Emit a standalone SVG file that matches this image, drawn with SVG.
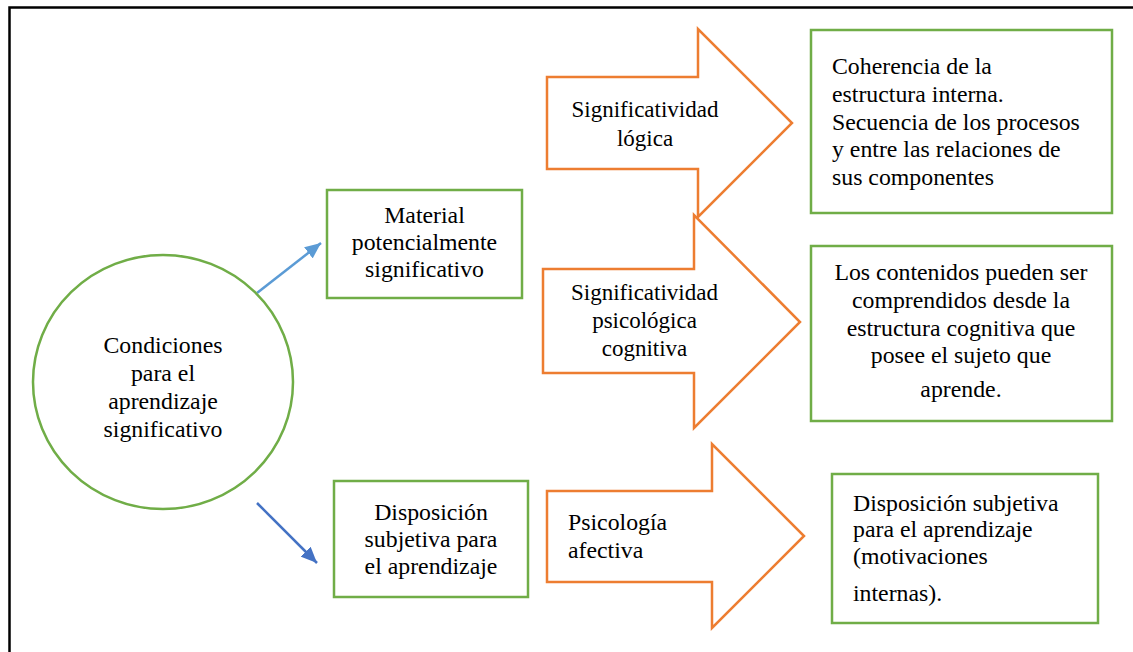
<svg xmlns="http://www.w3.org/2000/svg" width="1133" height="652" viewBox="0 0 1133 652">
<style>
.frame{fill:none;stroke:#000;stroke-width:2.5}
.g{fill:#fff;stroke:#70AD47;stroke-width:2.5}
.o{fill:#fff;stroke:#ED7D31;stroke-width:2.5;stroke-linejoin:miter}
.l1{stroke:#5B9BD5;stroke-width:2.5;fill:none}
.l2{stroke:#4472C4;stroke-width:2.5;fill:none}
</style>
<defs>
<marker id="ah1" markerUnits="userSpaceOnUse" viewBox="0 0 16 14" refX="16" refY="7" markerWidth="16" markerHeight="14" orient="auto"><path d="M0,0 L16,7 L0,14 Z" fill="#5B9BD5"/></marker>
<marker id="ah2" markerUnits="userSpaceOnUse" viewBox="0 0 16 14" refX="16" refY="7" markerWidth="16" markerHeight="14" orient="auto"><path d="M0,0 L16,7 L0,14 Z" fill="#4472C4"/></marker>
</defs>
<rect x="0" y="0" width="1133" height="652" fill="#fff"/>
<rect class="frame" x="9.5" y="7.5" width="1135" height="660"/>
<g id="connectors">
<line class="l1" x1="257" y1="293" x2="321" y2="243" marker-end="url(#ah1)"/>
<line class="l2" x1="257" y1="503" x2="317" y2="563" marker-end="url(#ah2)"/>
</g>
<g id="condiciones">
<ellipse class="g" cx="163" cy="382" rx="130" ry="127"/>
<text x="163" y="353" font-size="23.8" font-family="Liberation Serif" text-anchor="middle">Condiciones</text>
<text x="163" y="381" font-size="23.8" font-family="Liberation Serif" text-anchor="middle">para el</text>
<text x="163" y="409" font-size="23.8" font-family="Liberation Serif" text-anchor="middle">aprendizaje</text>
<text x="163" y="437" font-size="23.8" font-family="Liberation Serif" text-anchor="middle">significativo</text>
</g>
<g id="material">
<rect class="g" x="327" y="190" width="195" height="108"/>
<text x="424.5" y="223" font-size="23.8" font-family="Liberation Serif" text-anchor="middle">Material</text>
<text x="424.5" y="250" font-size="23.8" font-family="Liberation Serif" text-anchor="middle">potencialmente</text>
<text x="424.5" y="277" font-size="23.8" font-family="Liberation Serif" text-anchor="middle">significativo</text>
</g>
<g id="disposicion">
<rect class="g" x="334" y="481" width="194" height="116"/>
<text x="431" y="520" font-size="23.8" font-family="Liberation Serif" text-anchor="middle">Disposición</text>
<text x="431" y="547" font-size="23.8" font-family="Liberation Serif" text-anchor="middle">subjetiva para</text>
<text x="431" y="574" font-size="23.8" font-family="Liberation Serif" text-anchor="middle">el aprendizaje</text>
</g>
<g id="sig-logica">
<path class="o" d="M547,77 H698 V29 L792,123 L698,217 V169 H547 Z"/>
<text x="645" y="117" font-size="23" font-family="Liberation Serif" text-anchor="middle">Significatividad</text>
<text x="645" y="146" font-size="23" font-family="Liberation Serif" text-anchor="middle">lógica</text>
</g>
<g id="sig-psicologica">
<path class="o" d="M543,269 H694 V215 L800,322 L694,428 V373 H543 Z"/>
<text x="644.5" y="300" font-size="23" font-family="Liberation Serif" text-anchor="middle">Significatividad</text>
<text x="644.5" y="328" font-size="23" font-family="Liberation Serif" text-anchor="middle">psicológica</text>
<text x="644.5" y="356" font-size="23" font-family="Liberation Serif" text-anchor="middle">cognitiva</text>
</g>
<g id="psico-afectiva">
<path class="o" d="M547,491 H712 V444 L804,536 L712,628 V582 H547 Z"/>
<text x="568" y="530" font-size="23.8" font-family="Liberation Serif">Psicología</text>
<text x="568" y="558" font-size="23.8" font-family="Liberation Serif">afectiva</text>
</g>
<g id="coherencia">
<rect class="g" x="811" y="30" width="301" height="183"/>
<text x="832" y="74" font-size="23.8" font-family="Liberation Serif">Coherencia de la</text>
<text x="832" y="102" font-size="23.8" font-family="Liberation Serif">estructura interna.</text>
<text x="832" y="130" font-size="23.8" font-family="Liberation Serif">Secuencia de los procesos</text>
<text x="832" y="157" font-size="23.8" font-family="Liberation Serif">y entre las relaciones de</text>
<text x="832" y="185" font-size="23.8" font-family="Liberation Serif">sus componentes</text>
</g>
<g id="contenidos">
<rect class="g" x="811" y="246" width="301" height="175"/>
<text x="961" y="280" font-size="23.8" font-family="Liberation Serif" text-anchor="middle">Los contenidos pueden ser</text>
<text x="961" y="308" font-size="23.8" font-family="Liberation Serif" text-anchor="middle">comprendidos desde la</text>
<text x="961" y="336" font-size="23.8" font-family="Liberation Serif" text-anchor="middle">estructura cognitiva que</text>
<text x="961" y="363" font-size="23.8" font-family="Liberation Serif" text-anchor="middle">posee el sujeto que</text>
<text x="961" y="397" font-size="23.8" font-family="Liberation Serif" text-anchor="middle">aprende.</text>
</g>
<g id="disposicion-subjetiva">
<rect class="g" x="832" y="474" width="266" height="149"/>
<text x="853" y="511" font-size="23.8" font-family="Liberation Serif">Disposición subjetiva</text>
<text x="853" y="537" font-size="23.8" font-family="Liberation Serif">para el aprendizaje</text>
<text x="853" y="564" font-size="23.8" font-family="Liberation Serif">(motivaciones</text>
<text x="853" y="601" font-size="23.8" font-family="Liberation Serif">internas).</text>
</g>
</svg>
